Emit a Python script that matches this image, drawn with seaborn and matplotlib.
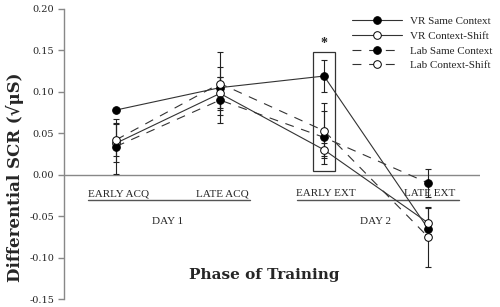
import numpy as np
import pandas as pd
import matplotlib
matplotlib.use("Agg")
import matplotlib.pyplot as plt
import seaborn as sns
from matplotlib.patches import Rectangle

# values
phases = ["EARLY ACQ", "LATE ACQ", "EARLY EXT", "LATE EXT"]
days = ["DAY 1", "DAY 2"]

vr_same = [0.078, 0.105, 0.119, -0.065]
vr_same_err = [0.0, 0.025, 0.019, 0.006]
vr_shift = [0.038, 0.098, 0.030, -0.058]
vr_shift_err = [0.023, 0.020, 0.008, 0.018]
lab_same = [0.034, 0.090, 0.045, -0.010]
lab_same_err = [0.033, 0.028, 0.032, 0.017]
lab_shift = [0.042, 0.110, 0.053, -0.075]
lab_shift_err = [0.020, 0.038, 0.033, 0.036]

y_ticks = [-0.15, -0.10, -0.05, 0.00, 0.05, 0.10, 0.15, 0.20]

sns.set_style("white")
plt.rcParams['font.family'] = ['Liberation Serif', 'DejaVu Serif']

series = [
    ("VR Same Context", vr_same, vr_same_err, "black", "-"),
    ("VR Context-Shift", vr_shift, vr_shift_err, "white", "-"),
    ("Lab Same Context", lab_same, lab_same_err, "black", (0, (8, 7))),
    ("Lab Context-Shift", lab_shift, lab_shift_err, "white", (0, (8, 7))),
]

fig = plt.figure(figsize=(5, 3.07), dpi=100)
ax = fig.add_axes([0.128, 0.026, 0.832, 0.945])

x = np.arange(len(phases))
for name, vals, errs, face, ls in series:
    df = pd.DataFrame({"phase": x, "scr": vals})
    ax.errorbar(x, vals, yerr=errs, fmt="none", ecolor="#222222",
                elinewidth=0.8, capsize=2.5, capthick=0.8, zorder=2)
    sns.lineplot(data=df, x="phase", y="scr", ax=ax, color="#333333",
                 linewidth=0.8, linestyle=ls, marker="o", markersize=5.5,
                 markerfacecolor=face, markeredgecolor="black",
                 markeredgewidth=0.7, label=name, zorder=3)

ax.axhline(0, color="#888888", linewidth=1.0, zorder=1)

# highlighted early extinction point
ax.add_patch(Rectangle((2 - 0.106, 0.004), 0.212, 0.144, fill=False,
                       edgecolor="#333333", linewidth=0.9, zorder=4))
ax.text(2, 0.150, "*", ha="center", va="bottom", fontsize=10, fontweight="bold")

# phase and day annotations inside the axes
for i, p in enumerate(phases):
    ax.text(i + 0.02, -0.023, p, ha="center", va="center", fontsize=8)
ax.plot([-0.27, 1.29], [-0.031, -0.031], color="#555555", linewidth=1.0)
ax.plot([1.74, 3.3], [-0.031, -0.031], color="#555555", linewidth=1.0)
ax.text(0.5, -0.056, days[0], ha="center", va="center", fontsize=8)
ax.text(2.5, -0.056, days[1], ha="center", va="center", fontsize=8)
ax.text(1.43, -0.121, "Phase of Training", ha="center", va="center",
        fontsize=11, fontweight="bold", family="DejaVu Serif")

ax.set_xlim(-0.5, 3.5)
ax.set_ylim(-0.15, 0.20)
ax.set_yticks(y_ticks)
ax.set_yticklabels([f"{t:.2f}" for t in y_ticks], family="DejaVu Serif")
ax.set_xticks([])
ax.set_xlabel("")
ax.set_ylabel("Differential SCR (\u221a\u03bcS)", fontsize=12, fontweight="bold",
              family="DejaVu Serif")
ax.yaxis.set_label_coords(-0.095, 0.42)
ax.tick_params(axis="y", direction="out", length=4, width=1, color="#888888",
               labelsize=7, pad=3, left=True)
for s in ["top", "right", "bottom"]:
    ax.spines[s].set_visible(False)
ax.spines["left"].set_color("#888888")
ax.spines["left"].set_linewidth(1.0)

ax.legend(loc="upper right", bbox_to_anchor=(1.04, 0.99), frameon=False,
          fontsize=8, handlelength=4.5, handletextpad=0.7, labelspacing=0.45,
          borderaxespad=0)

fig.savefig("out.png", dpi=100)
